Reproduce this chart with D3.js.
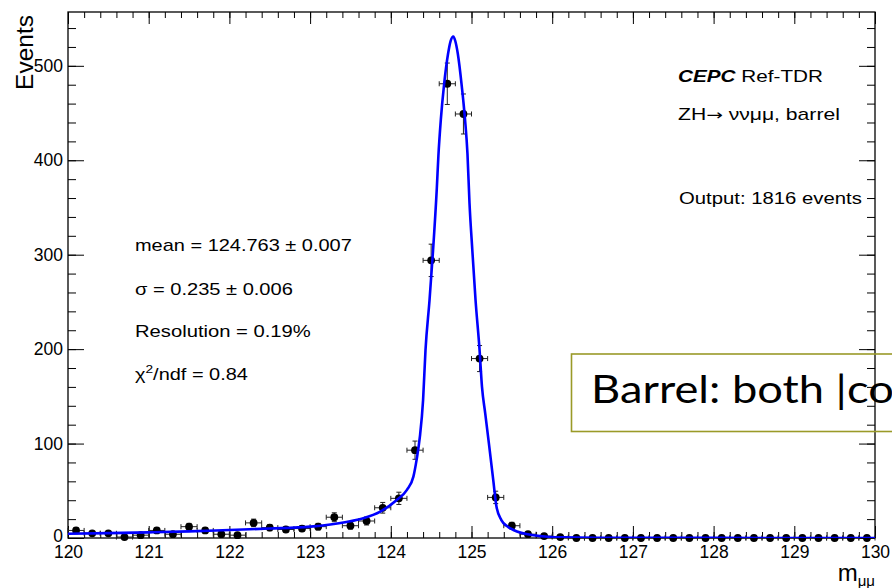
<!DOCTYPE html>
<html><head><meta charset="utf-8">
<script src="https://cdn.jsdelivr.net/npm/d3@7/dist/d3.min.js"></script>
<style>body{margin:0;background:#fff}svg{display:block}</style>
</head><body>
<svg id="c" width="892" height="588"></svg>
<script>
// ---------- data ----------
const binCenters = [120.1,120.3,120.5,120.7,120.9,121.1,121.3,121.5,121.7,121.9,
  122.1,122.3,122.5,122.7,122.9,123.1,123.3,123.5,123.7,123.9,
  124.1,124.3,124.5,124.7,124.9,125.1,125.3,125.5,125.7,125.9,
  126.1,126.3,126.5,126.7,126.9,127.1,127.3,127.5,127.7,127.9,
  128.1,128.3,128.5,128.7,128.9,129.1,129.3,129.5,129.7,129.9];
const counts = [8,5,5,1,3,8,4,12,8,4,
  3,16,11,9,10,12,22,13,18,32,
  42,93,294,481,449,190,43,13,4,2,
  1,0,0,0,0,0,0,0,0,0,
  0,0,0,0,0,0,0,0,0,0];
const fitX = [120.0,120.5,121.0,121.5,122.0,122.5,123.0,123.45,123.66,123.87,124.07,124.20,124.28,124.32,124.36,124.40,124.43,124.48,124.52,124.57,124.59,124.62,124.66,124.71,124.74,124.775,124.80,124.83,124.88,124.92,124.95,124.975,125.01,125.05,125.10,125.13,125.17,125.22,125.27,125.31,125.37,125.45,125.52,125.77,126.14,126.6,127.0,128.0,129.0,130.0];
const fitY = [4.5,5.2,6,7,8.5,10,12,17,21,28,40,51,65,83,107,146,199,252,300,370,405,443,480,513,526,531,526,513,478,443,407,355,305,252,199,160,132,97,61,33,19,12,8.5,3,0.7,0.3,0.2,0.1,0.05,0];
const xTickLabels = [120,121,122,123,124,125,126,127,128,129,130];
const yTickLabels = [0,100,200,300,400,500];
const fitLabels = ["mean = 124.763 \u00b1 0.007","\u03c3 = 0.235 \u00b1 0.006","Resolution = 0.19%"];
const infoLabels = ["Ref-TDR","ZH","\u2192"," \u03bd\u03bd\u03bc\u03bc, barrel","Output: 1816 events"];

// ---------- layout ----------
const FONT = "'Liberation Sans', Arial, Helvetica, sans-serif";
const L = 68, R = 875, T = 12, B = 538;
const svg = d3.select("#c");
const x = d3.scaleLinear().domain([120,130]).range([L,R]);
const y = d3.scaleLinear().domain([0,557]).range([B,T]);

const xMinor = d3.range(0,51).map(i => 120 + i*0.2);
const yMinor = d3.range(0,28).map(i => i*20);

function styleAxis(g){
  g.select(".domain").remove();
  g.selectAll("line").attr("stroke","#000").attr("stroke-width",1);
  g.selectAll("text").attr("font-family",FONT).attr("font-size",17.5).attr("fill","#000");
}
// bottom
svg.append("g").attr("transform",`translate(0,${B})`)
  .call(d3.axisBottom(x).tickValues(xMinor).tickSize(-6).tickFormat(""))
  .call(styleAxis);
svg.append("g").attr("transform",`translate(0,${B})`)
  .call(d3.axisBottom(x).tickValues(xTickLabels).tickSize(-12).tickPadding(8).tickFormat(d3.format("d")))
  .call(styleAxis);
// top
svg.append("g").attr("transform",`translate(0,${T})`)
  .call(d3.axisTop(x).tickValues(xMinor).tickSize(-6).tickFormat(""))
  .call(styleAxis);
svg.append("g").attr("transform",`translate(0,${T})`)
  .call(d3.axisTop(x).tickValues(xTickLabels).tickSize(-12).tickFormat(""))
  .call(styleAxis);
// left
svg.append("g").attr("transform",`translate(${L},0)`)
  .call(d3.axisLeft(y).tickValues(yMinor).tickSize(-8).tickFormat(""))
  .call(styleAxis);
const yAx = svg.append("g").attr("transform",`translate(${L},0)`)
  .call(d3.axisLeft(y).tickValues(yTickLabels).tickSize(-16).tickPadding(5).tickFormat(d3.format("d")))
  .call(styleAxis);
yAx.selectAll("text").filter(d => d === 0).attr("dy","0.2em");
// right
svg.append("g").attr("transform",`translate(${R},0)`)
  .call(d3.axisRight(y).tickValues(yMinor).tickSize(-8).tickFormat(""))
  .call(styleAxis);
svg.append("g").attr("transform",`translate(${R},0)`)
  .call(d3.axisRight(y).tickValues(yTickLabels).tickSize(-16).tickFormat(""))
  .call(styleAxis);

// frame
svg.append("rect").attr("x",L).attr("y",T).attr("width",R-L).attr("height",B-T)
  .attr("fill","none").attr("stroke","#000").attr("stroke-width",1.3);

// clip
svg.append("clipPath").attr("id","plotclip").append("rect")
  .attr("x",L).attr("y",T).attr("width",R-L).attr("height",B-T);

// data points with error bars
const pts = svg.append("g");
const hw = 0.1;
binCenters.forEach((c,i) => {
  const n = counts[i], e = Math.sqrt(n);
  const g = pts.append("g").attr("stroke","#222").attr("stroke-width",1);
  const cx = x(c), cy = y(n);
  g.append("line").attr("x1",x(c-hw)).attr("x2",x(c+hw)).attr("y1",cy).attr("y2",cy);
  g.append("line").attr("x1",x(c-hw)).attr("x2",x(c-hw)).attr("y1",cy-2.5).attr("y2",cy+2.5);
  g.append("line").attr("x1",x(c+hw)).attr("x2",x(c+hw)).attr("y1",cy-2.5).attr("y2",cy+2.5);
  if (e > 0) {
    g.append("line").attr("x1",cx).attr("x2",cx).attr("y1",y(n-e)).attr("y2",y(n+e));
    g.append("line").attr("x1",cx-2.5).attr("x2",cx+2.5).attr("y1",y(n-e)).attr("y2",y(n-e));
    g.append("line").attr("x1",cx-2.5).attr("x2",cx+2.5).attr("y1",y(n+e)).attr("y2",y(n+e));
  }
});
pts.selectAll("circle").data(binCenters).join("circle")
  .attr("cx",d => x(d)).attr("cy",(d,i) => y(counts[i])).attr("r",3.9).attr("fill","#000");

// fit curve
const fitData = fitX.map((v,i) => [v, fitY[i]]);
svg.append("path").datum(fitData)
  .attr("clip-path","url(#plotclip)")
  .attr("d", d3.line().x(d => x(d[0])).y(d => y(d[1])).curve(d3.curveMonotoneX))
  .attr("fill","none").attr("stroke","#0000ff").attr("stroke-width",2.6).attr("stroke-linejoin","round");

// stretched annotation text helper
function note(px, py, targetW, build){
  const t = svg.append("text").attr("font-family",FONT).attr("font-size",16).attr("fill","#000");
  build(t);
  const w = t.node().getComputedTextLength();
  t.attr("transform",`translate(${px},${py}) scale(${targetW/w},1)`);
  return t;
}
note(135,251,217, t => t.text(fitLabels[0]));
note(135,295,158, t => t.text(fitLabels[1]));
note(135,337,176, t => t.text(fitLabels[2]));
note(135,380,113, t => {
  t.append("tspan").text("\u03c7");
  t.append("tspan").attr("font-size",11).attr("dy",-7).text("2");
  t.append("tspan").attr("dy",7).text("/ndf = 0.84");
});
note(678,82,145, t => {
  t.append("tspan").attr("font-weight","bold").attr("font-style","italic").text("CEPC");
  t.append("tspan").text(" " + infoLabels[0]);
});
note(678,120,162, t => {
  t.append("tspan").text(infoLabels[1]);
  t.append("tspan").attr("font-family","'DejaVu Sans', sans-serif").attr("font-size",15).text(infoLabels[2]);
  t.append("tspan").text(infoLabels[3]);
});
note(679,204,183, t => t.text(infoLabels[4]));

// axis titles
svg.append("text").attr("font-family",FONT).attr("font-size",24.5).attr("text-anchor","end")
  .attr("transform","translate(33,15) rotate(-90)").text("Events");
const xt = svg.append("text").attr("font-family",FONT).attr("text-anchor","end")
  .attr("x",875).attr("y",581);
xt.append("tspan").attr("font-size",24).text("m");
xt.append("tspan").attr("font-size",15).attr("dy",5).text("\u03bc\u03bc");

// overlay box from slide
svg.append("rect").attr("x",571.5).attr("y",354).attr("width",400).attr("height",77.5)
  .attr("fill","none").attr("stroke","#9a9a28").attr("stroke-width",1.6);
const BOXFONT = "Lato, 'Open Sans', sans-serif";
const tmp = svg.append("text").attr("font-family",BOXFONT).attr("font-size",39).text("Barrel: both |");
const sx = 256 / tmp.node().getComputedTextLength();
tmp.remove();
svg.append("text").attr("font-family",BOXFONT).attr("font-size",39).attr("fill","#000")
  .attr("transform",`translate(591,403) scale(${sx},1)`).text("Barrel: both |co");
</script>
</body></html>
